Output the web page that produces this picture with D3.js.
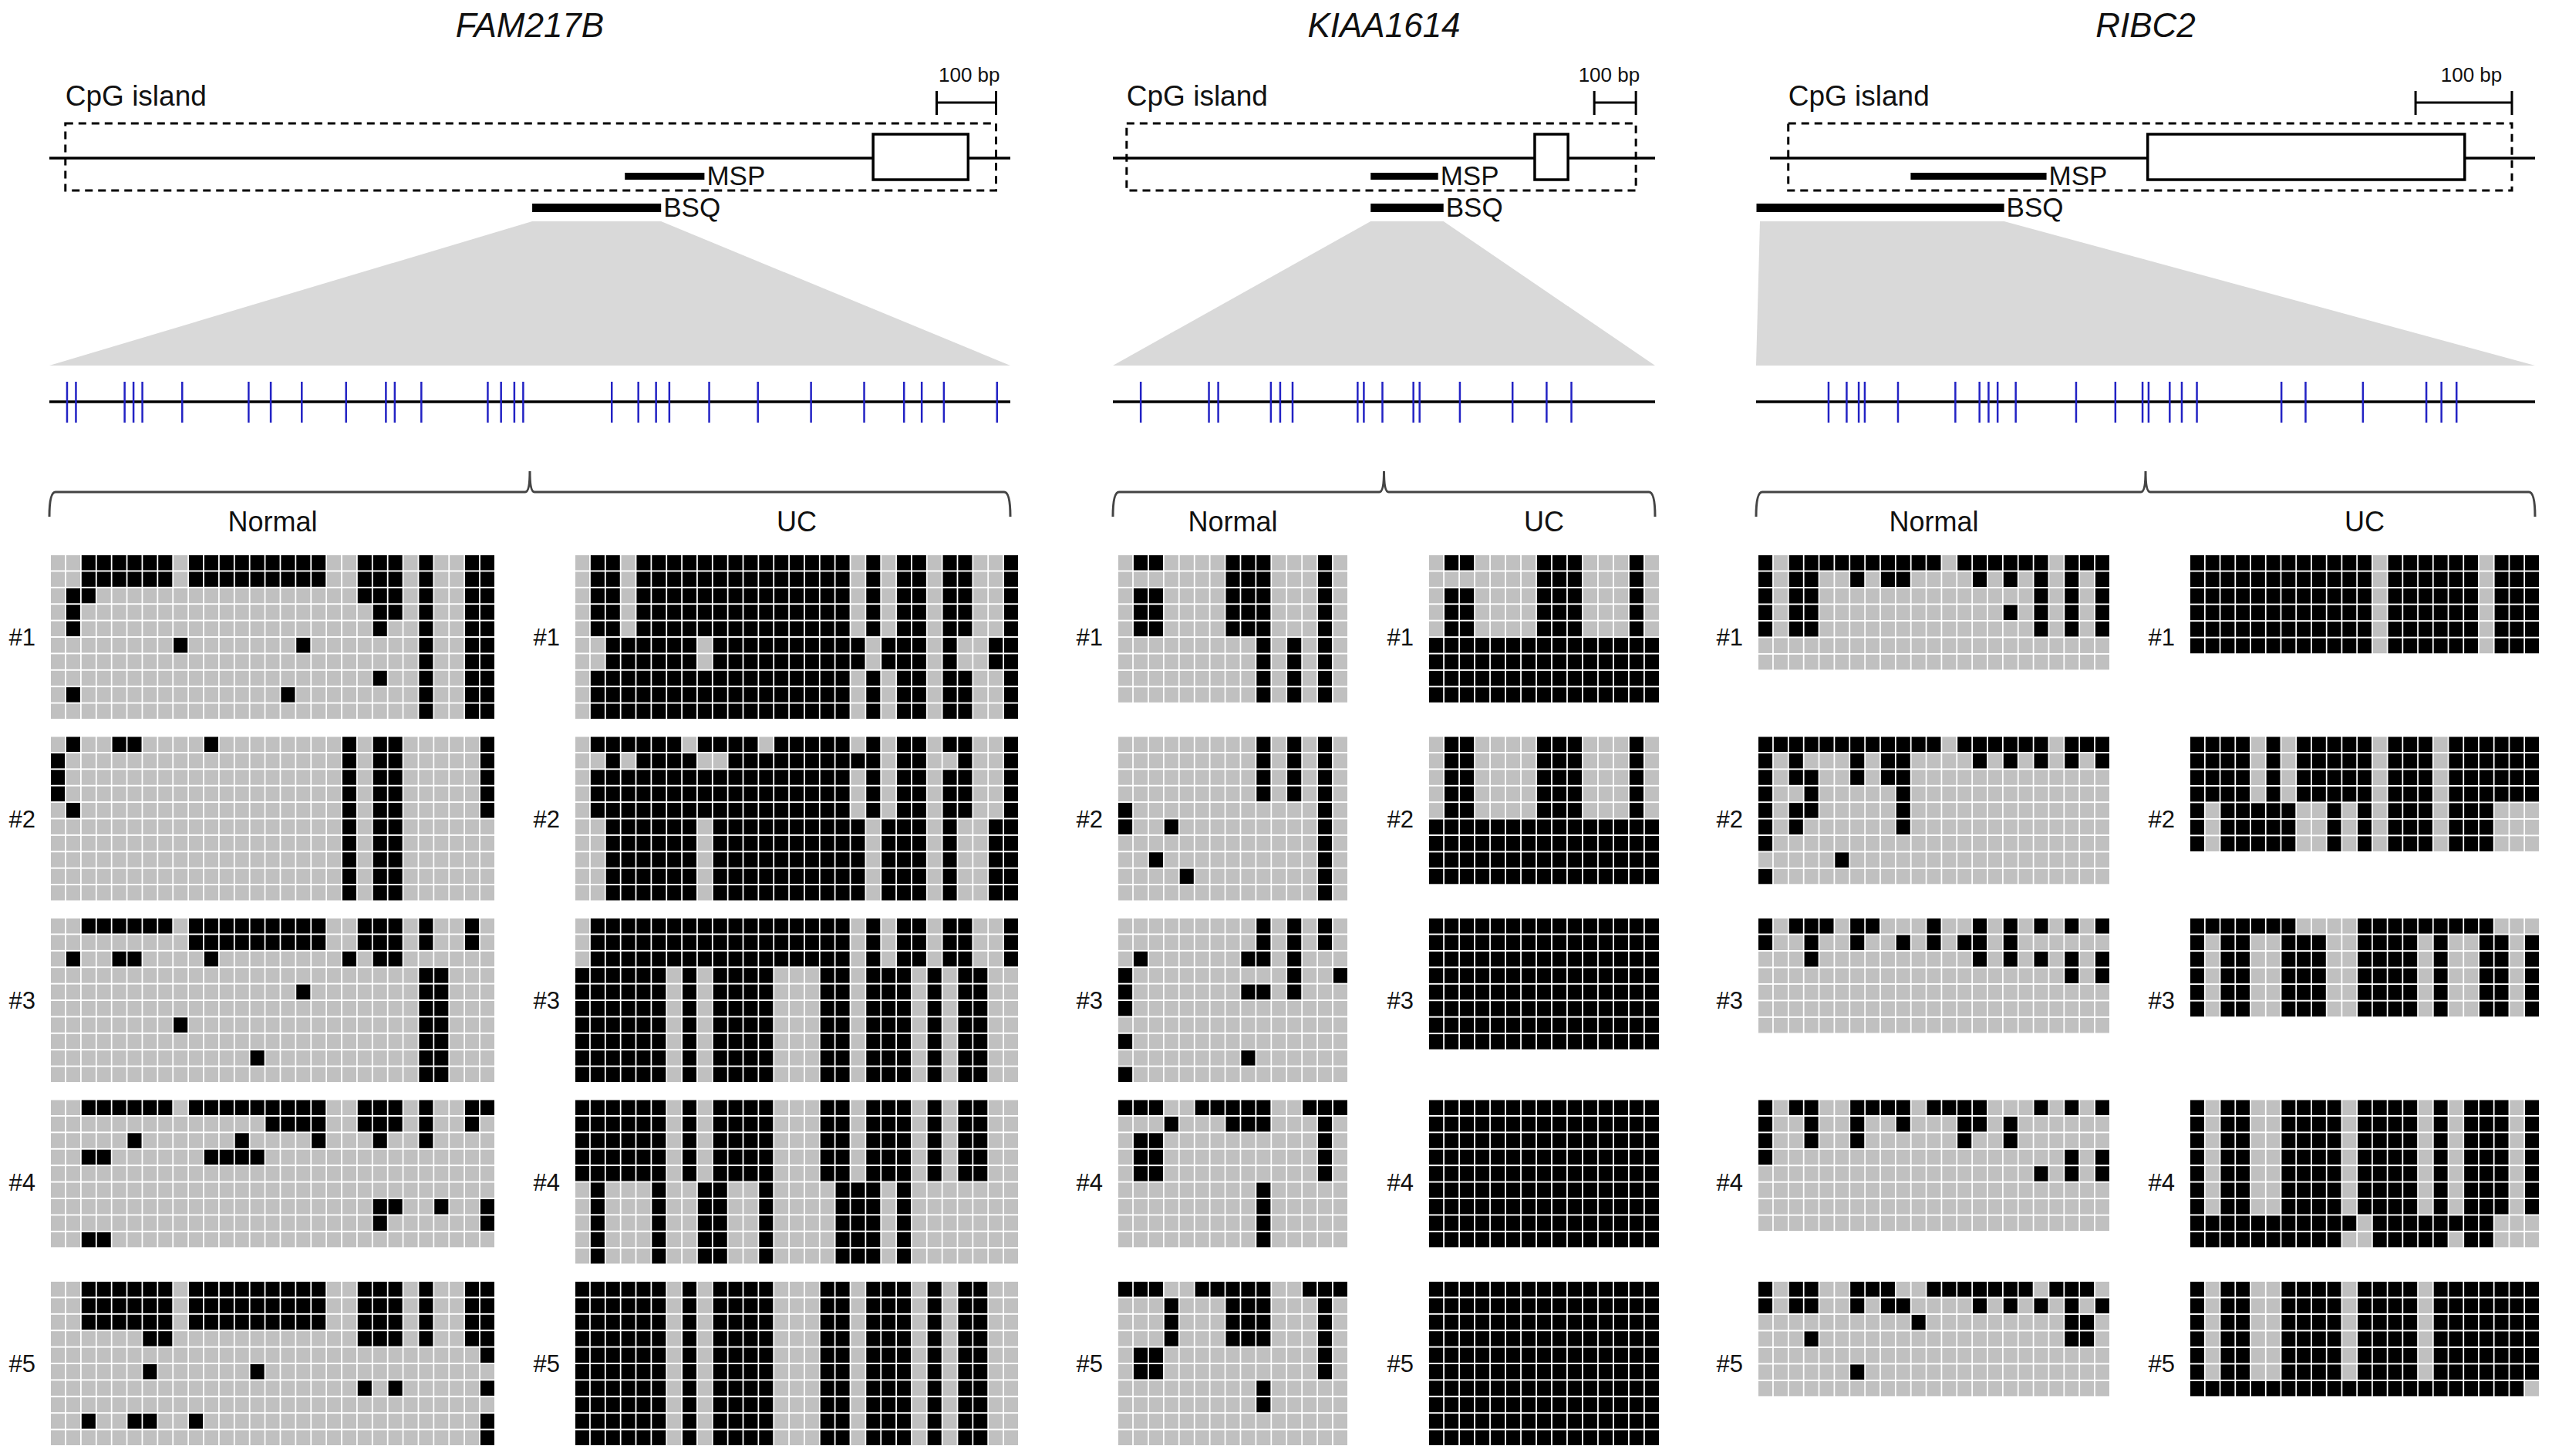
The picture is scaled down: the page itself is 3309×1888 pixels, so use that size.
<!DOCTYPE html>
<html lang="en">
<head>
<meta charset="UTF-8">
<title>CpG methylation</title>
<style>
  body { margin: 0; background: #fff; }
  text { font-family: "Liberation Sans", Arial, sans-serif; fill: #111; }
</style>
</head>
<body>
<div id="chart"></div>
<script src="https://cdn.jsdelivr.net/npm/d3@7"></script>
<script>
const width = 3309, height = 1888;

const genes = ["FAM217B", "KIAA1614", "RIBC2"];
const groups = ["Normal", "UC"];
const samples = ["#1", "#2", "#3", "#4", "#5"];

// promoter map (bp from left end of the drawn line)
const lineBp = [1618, 1302, 794];
const islandBp = [[27, 1594], [33, 1256], [19, 770]];
const exonBp = [[1387, 1547], [1013, 1093], [392, 721]];
const mspBp = [[969, 1103], [619, 781], [146, 287]];
const bsqBp = [[813, 1030], [619, 794], [-14, 243]];
const scaleBarEndBp = [1594, 1256, 770];
const scaleBarBp = 100;

// CpG sites inside the BSQ amplicon (bp)
const ampliconBp = [217, 175, 258];
const cpgFAM217B = [4, 6, 17, 19, 21, 30, 45, 50, 57, 67, 76, 78, 84, 99, 102, 105, 107,
  127, 133, 137, 140, 149, 160, 172, 184, 193, 197, 202, 214];
const cpgKIAA1614 = [9, 31, 34, 51, 54, 58, 79, 81, 87, 97, 99, 112, 129, 140, 148];
const cpgRIBC2 = [24, 30, 34, 36, 47, 66, 74, 77, 80, 86, 106, 119, 128, 130, 137, 141, 146,
  174, 182, 201, 222, 227, 232];

// bisulfite sequencing clones, 1 = methylated CpG
const famP = "00111 11101 11111 11100 11101 0011";
const famNormal = [
  [famP, famP,
   "01100 00000 00000 00000 11101 0011",
   "01000 00000 00000 00000 01101 0011",
   "01000 00000 00000 00000 01001 0011",
   "00000 00010 00000 01000 00001 0011",
   "00000 00000 00000 00000 00001 0011",
   "00000 00000 00000 00000 01001 0011",
   "01000 00000 00000 10000 00001 0011",
   "00000 00000 00000 00000 00001 0011"],
  ["01001 10000 10000 00001 01100 0001",
   "10000 00000 00000 00001 01100 0001",
   "10000 00000 00000 00001 01100 0001",
   "10000 00000 00000 00001 01100 0001",
   "01000 00000 00000 00001 01100 0001",
   "00000 00000 00000 00001 01100 0000",
   "00000 00000 00000 00001 01100 0000",
   "00000 00000 00000 00001 01100 0000",
   "00000 00000 00000 00001 01100 0000",
   "00000 00000 00000 00001 01100 0000"],
  ["00111 11101 11111 11100 11101 0010",
   "00000 00001 11111 11100 11101 0010",
   "01001 10000 10000 00001 01100 0000",
   "00000 00000 00000 00000 00001 1000",
   "00000 00000 00000 01000 00001 1000",
   "00000 00000 00000 00000 00001 1000",
   "00000 00010 00000 00000 00001 1000",
   "00000 00000 00000 00000 00001 1000",
   "00000 00000 00010 00000 00001 1000",
   "00000 00000 00000 00000 00001 1000"],
  [famP,
   "00000 00000 00001 11100 11101 0010",
   "00000 10000 00100 00100 01001 0000",
   "00110 00000 11110 00000 00000 0000",
   "00000 00000 00000 00000 00000 0000",
   "00000 00000 00000 00000 00000 0000",
   "00000 00000 00000 00000 01100 1001",
   "00000 00000 00000 00000 01000 0001",
   "00110 00000 00000 00000 00000 0000"],
  [famP, famP, famP,
   "00000 01100 00000 00000 11101 0011",
   "00000 00000 00000 00000 00000 0001",
   "00000 01000 00010 00000 00000 0000",
   "00000 00000 00000 00000 10100 0001",
   "00000 00000 00000 00000 00000 0000",
   "00100 11001 00000 00000 00000 0001",
   "00000 00000 00000 00000 00000 0001"]
];
const famA = "01101 11111 11111 11101 01101 1001";
const famB = "00111 11101 11111 11110 11101 0011";
const famC = "01111 11111 11111 11101 01101 1001";
const famD = "11111 10101 11100 01101 11010 1100";
const famE = "01000 10011 00100 00111 01000 0000";
const famUC = [
  [famA, famA, famA, famA, famA, famB, famB, famC, famC, famC],
  ["01111 11011 11011 11101 01101 1001",
   "00101 11100 11111 11111 01100 1001",
   famC, famC, famC, famB, famB, famB, famB, famB],
  [famC, famC, famC, famD, famD, famD, famD, famD, famD, famD],
  [famD, famD, famD, famD, famD, famE, famE, famE, famE, famE],
  [famD, famD, famD, famD, famD, famD, famD, famD, famD, famD]
];

const kA = "01100 00111 00010";
const kB = "00000 00001 01010";
const kAll = "11111 11111 11111";
const kiaaNormal = [
  [kA, "00000 00111 00010", kA, kA, kA, kB, kB, kB, kB],
  [kB, kB, kB, kB,
   "10000 00000 00010",
   "10010 00000 00010",
   "00000 00000 00010",
   "00100 00000 00010",
   "00001 00000 00010",
   "00000 00000 00010"],
  [kB, kB,
   "01000 00011 01000",
   "10000 00000 01001",
   "10000 00011 01000",
   "10000 00000 00000",
   "00000 00000 00000",
   "10000 00000 00000",
   "00000 00010 00000",
   "10000 00000 00000"],
  ["11100 11111 00111",
   "00010 00111 00010",
   "01100 00000 00010",
   "01100 00000 00010",
   "01100 00000 00010",
   "00000 00001 00000",
   "00000 00001 00000",
   "00000 00001 00000",
   "00000 00001 00000"],
  ["11100 11111 00111",
   "00010 00111 00010",
   "00010 00111 00010",
   "00010 00111 00010",
   "01100 00000 00010",
   "01100 00000 00010",
   "00000 00001 00000",
   "00000 00001 00000",
   "00000 00000 00000",
   "00000 00000 00000"]
];
const kiaaUC = [
  [kA, "00000 00111 00010", kA, kA, kA, kAll, kAll, kAll, kAll],
  [kA, kA, kA, kA, kA, kAll, kAll, kAll, kAll],
  [kAll, kAll, kAll, kAll, kAll, kAll, kAll, kAll],
  [kAll, kAll, kAll, kAll, kAll, kAll, kAll, kAll, kAll],
  [kAll, kAll, kAll, kAll, kAll, kAll, kAll, kAll, kAll, kAll]
];

const rZero = "00000 00000 00000 00000 000";
const ribcNormal = [
  ["10111 11111 11011 11110 111",
   "10110 01011 00001 01010 101",
   "10110 00000 00000 00010 101",
   "10110 00000 00000 01010 101",
   "10110 00000 00000 00010 101",
   rZero, rZero],
  ["11111 11111 11011 11110 111",
   "10100 01011 00001 01010 101",
   "10110 01011 00000 00000 000",
   "10010 00001 00000 00000 000",
   "10110 00001 00000 00000 000",
   "10100 00001 00000 00000 000",
   "10000 00000 00000 00000 000",
   "00000 10000 00000 00000 000",
   "10000 00000 00000 00000 000"],
  ["10111 01100 01001 01010 101",
   "10010 01001 01011 01000 000",
   "00010 00000 00001 01010 101",
   "00000 00000 00000 00000 101",
   rZero, rZero, rZero],
  ["10110 01111 01111 00010 101",
   "10010 01001 00011 01000 000",
   "10010 01000 00010 01000 000",
   "10000 00000 00000 00000 101",
   "00000 00000 00000 00010 101",
   rZero, rZero, rZero],
  ["10110 01110 01111 11101 110",
   "10110 01011 00001 01010 101",
   "00000 00000 10000 00000 110",
   "00010 00000 00000 00000 110",
   rZero,
   "00000 01000 00000 00000 000",
   rZero]
];
const rF = "11111 11111 11011 11110 111";
const rG = "11110 10111 11011 10111 111";
const rH = "10111 11001 01011 10111 000";
const rI = "10110 01110 01111 01001 101";
const rJ = "10110 01111 01111 01011 101";
const rK = "10110 01111 01111 01111 111";
const ribcUC = [
  [rF, rF, rF, rF, rF, rF],
  [rG, rG, rG, rG, rH, rH, rH],
  ["11111 11000 01111 11111 000", rI, rI, rI, rI, rI],
  [rJ, rJ, rJ, rJ, rJ, rJ, rJ,
   "11111 11111 10111 11111 000",
   "11111 11111 00111 11011 000"],
  [rK, rK, rK, rK, rK, rK, "11111 11111 11111 11111 110"]
];

const cpgSites = [cpgFAM217B, cpgKIAA1614, cpgRIBC2];
const clones = [[famNormal, famUC], [kiaaNormal, kiaaUC], [ribcNormal, ribcUC]];

// layout (pixels)
const layout = [
  {line: [64, 1310], cpgLine: [64, 1310], grids: [[66, 641], [746, 1320]]},
  {line: [1443, 2146], cpgLine: [1443, 2146], grids: [[1450, 1747], [1853, 2151]]},
  {line: [2295, 3287], cpgLine: [2277, 3287], grids: [[2280, 2735], [2840, 3292]]}
];
const blockTop = 720, blockStep = 235.5, rowPitch = 21.2;

const svg = d3.select("#chart").append("svg")
  .attr("width", width).attr("height", height)
  .style("background", "#fff");

genes.forEach((gene, gi) => {
  const L = layout[gi];
  const g = svg.append("g").attr("class", "gene");
  const top = d3.scaleLinear().domain([0, lineBp[gi]]).range(L.line);
  const mid = (L.cpgLine[0] + L.cpgLine[1]) / 2;

  // title
  g.append("text").attr("x", mid).attr("y", 48)
    .attr("text-anchor", "middle").attr("font-size", 44)
    .attr("font-style", "italic").text(gene);

  // island label
  g.append("text").attr("x", top(islandBp[gi][0])).attr("y", 137)
    .attr("font-size", 37).text("CpG island");

  // 100 bp scale bar
  const sb1 = top(scaleBarEndBp[gi]), sb0 = top(scaleBarEndBp[gi] - scaleBarBp);
  g.append("path")
    .attr("d", `M${sb0},118V149M${sb0},133H${sb1}M${sb1},118V149`)
    .attr("stroke", "#000").attr("stroke-width", 3).attr("fill", "none");
  g.append("text").attr("x", gi === 2 ? (sb0 + sb1) / 2 + 10 : sb1 + 5).attr("y", 106)
    .attr("text-anchor", gi === 2 ? "middle" : "end")
    .attr("font-size", 26).text("100 bp");

  // CpG island dashed box
  g.append("rect")
    .attr("x", top(islandBp[gi][0])).attr("y", 160)
    .attr("width", top(islandBp[gi][1]) - top(islandBp[gi][0])).attr("height", 87)
    .attr("fill", "none").attr("stroke", "#000").attr("stroke-width", 3)
    .attr("stroke-dasharray", "10,7");

  // promoter line + exon
  g.append("line").attr("x1", L.line[0]).attr("x2", L.line[1])
    .attr("y1", 205).attr("y2", 205).attr("stroke", "#000").attr("stroke-width", 3.5);
  g.append("rect")
    .attr("x", top(exonBp[gi][0])).attr("y", 174)
    .attr("width", top(exonBp[gi][1]) - top(exonBp[gi][0])).attr("height", 59)
    .attr("fill", "#fff").attr("stroke", "#000").attr("stroke-width", 3.5);

  // MSP and BSQ amplicons
  [[mspBp[gi], 228.5, 9, "MSP", 240], [bsqBp[gi], 269.5, 11, "BSQ", 281]].forEach(([r, y, h, lab, ty]) => {
    g.append("rect").attr("x", top(r[0])).attr("y", y - h / 2)
      .attr("width", top(r[1]) - top(r[0])).attr("height", h).attr("fill", "#000");
    g.append("text").attr("x", top(r[1]) + 3).attr("y", ty)
      .attr("font-size", 35).text(lab);
  });

  // zoom trapezoid
  const b0 = Math.max(top(bsqBp[gi][0]), L.cpgLine[0] + 5), b1 = top(bsqBp[gi][1]);
  g.append("path")
    .attr("d", `M${b0},287L${b1},287L${L.cpgLine[1]},474L${L.cpgLine[0]},474Z`)
    .attr("fill", "#d9d9d9");

  // CpG sites
  const cx = d3.scaleLinear().domain([0, ampliconBp[gi]]).range(L.cpgLine);
  g.append("line").attr("x1", L.cpgLine[0]).attr("x2", L.cpgLine[1])
    .attr("y1", 521).attr("y2", 521).attr("stroke", "#000").attr("stroke-width", 3.5);
  g.append("g").selectAll("line").data(cpgSites[gi]).join("line")
    .attr("x1", d => cx(d)).attr("x2", d => cx(d))
    .attr("y1", 495).attr("y2", 548)
    .attr("stroke", "#2222c4").attr("stroke-width", 2.5);

  // bracket
  const p = d3.path();
  const x0 = L.cpgLine[0], x1 = L.cpgLine[1];
  p.moveTo(x0, 670);
  p.quadraticCurveTo(x0, 638, x0 + 8, 638);
  p.lineTo(mid - 6, 638);
  p.quadraticCurveTo(mid, 638, mid, 611);
  p.quadraticCurveTo(mid, 638, mid + 6, 638);
  p.lineTo(x1 - 8, 638);
  p.quadraticCurveTo(x1, 638, x1, 670);
  g.append("path").attr("d", p.toString())
    .attr("fill", "none").attr("stroke", "#444").attr("stroke-width", 3);

  // groups of clones
  groups.forEach((grp, k) => {
    const gx = L.grids[k];
    const nCols = cpgSites[gi].length;
    const x = d3.scaleBand().domain(d3.range(nCols)).range(gx).paddingInner(0.09);

    g.append("text").attr("x", (gx[0] + gx[1]) / 2).attr("y", 689)
      .attr("text-anchor", "middle").attr("font-size", 36).text(grp);

    clones[gi][k].forEach((rows, si) => {
      const ty = blockTop + si * blockStep;
      const bits = rows.map(r => r.replace(/\s/g, "").split("").map(Number));
      const y = d3.scaleBand().domain(d3.range(bits.length))
        .range([ty, ty + bits.length * rowPitch]).paddingInner(0.09);

      g.append("text").attr("x", gx[0] - 20).attr("y", ty + 117)
        .attr("text-anchor", "end").attr("font-size", 31).text(samples[si]);

      const cells = [];
      bits.forEach((row, ri) => row.forEach((v, ci) => cells.push({ri, ci, v})));
      g.append("g").selectAll("rect").data(cells).join("rect")
        .attr("x", d => x(d.ci)).attr("y", d => y(d.ri))
        .attr("width", x.bandwidth()).attr("height", y.bandwidth())
        .attr("fill", d => d.v ? "#000" : "#c0c0c0");
    });
  });
});
</script>
</body>
</html>
